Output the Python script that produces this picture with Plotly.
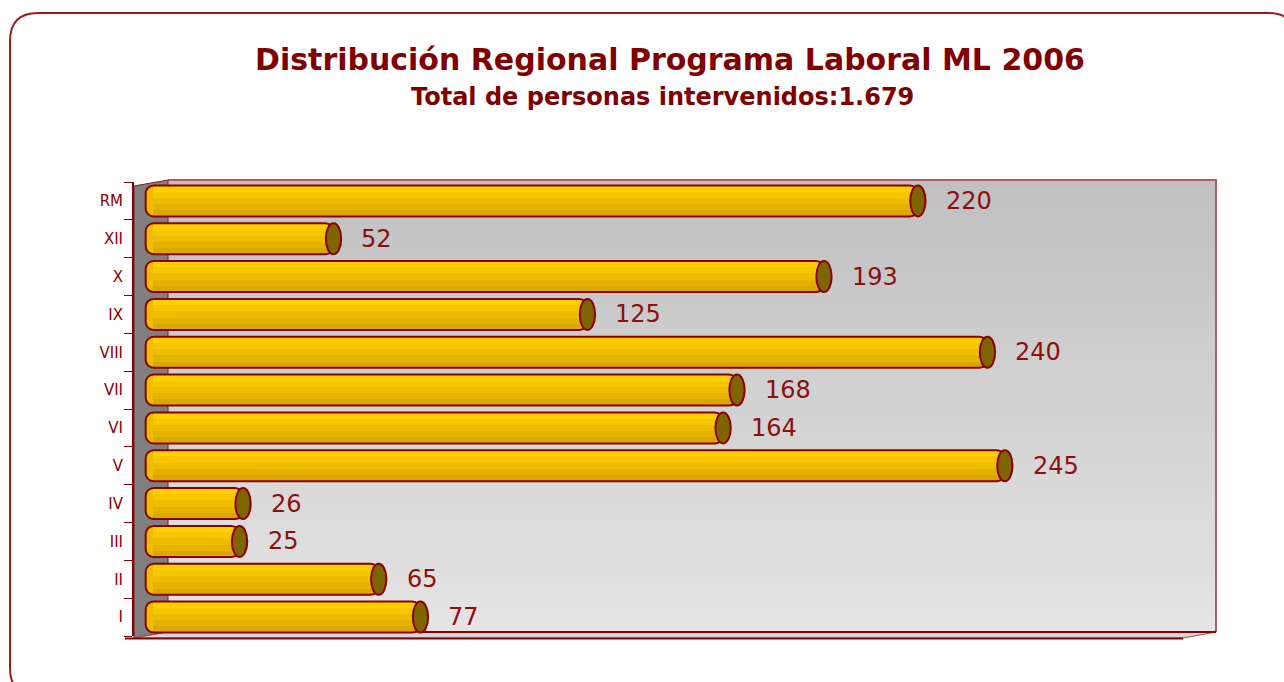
import plotly.graph_objects as go

# ---- data ----
regions = ["I", "II", "III", "IV", "V", "VI", "VII", "VIII", "IX", "X", "XII", "RM"]
personas = [77, 65, 25, 26, 245, 164, 168, 240, 125, 193, 52, 220]
title_text = "Distribución Regional Programa Laboral ML 2006"
subtitle_text = "Total de personas intervenidos:1.679"

# ---- styles / geometry ----
W, H = 1284, 682
L, R, T, B = 134, 1216, 182, 636          # plot area in pixels
X_RANGE = [-5.35, 305.7]
BAR_START = -2.0
BAR_W = 0.82
CAP_HALF = 2.2
DARK_RED = "#8B0000"
TEXT_RED = "#8B1010"
STRIPES = ["#FFCF00", "#F7C600", "#EEBD00", "#E4B200", "#DAA800"]


def PX(x):
    return (x - L) / (R - L)


def PY(y):
    return (B - y) / (B - T)


fig = go.Figure()

# main bar body (rounded at the left end)
fig.add_trace(go.Bar(
    y=regions, x=[-(v - BAR_START) for v in personas], base=personas,
    orientation="h", width=BAR_W,
    marker=dict(color=STRIPES[2], line=dict(width=0), cornerradius=8),
    hoverinfo="skip", showlegend=False))

# horizontal shading stripes
n = len(STRIPES)
sw = BAR_W / n
for k, col in enumerate(STRIPES):
    fig.add_trace(go.Bar(
        y=regions, x=[v - (BAR_START + 2.2) for v in personas], base=BAR_START + 2.2,
        orientation="h", width=sw, offset=BAR_W / 2 - (k + 1) * sw,
        marker=dict(color=col, line=dict(width=0)),
        hoverinfo="skip", showlegend=False))

# outline on top
fig.add_trace(go.Bar(
    y=regions, x=[-(v - BAR_START) for v in personas], base=personas,
    orientation="h", width=BAR_W,
    marker=dict(color="rgba(0,0,0,0)", line=dict(width=2, color=DARK_RED), cornerradius=8),
    hoverinfo="skip", showlegend=False))

shapes = []
# back wall gradient
nb = 40
y_top, y_bot = 180, 632
for i in range(nb):
    t = i / (nb - 1)
    g = int(round(0xC0 + (0xE4 - 0xC0) * t))
    ya = y_top + (y_bot - y_top) * i / nb
    yb = y_top + (y_bot - y_top) * (i + 1) / nb
    shapes.append(dict(type="rect", xref="paper", yref="paper",
                       x0=PX(168), x1=PX(1216), y0=PY(ya), y1=PY(yb + 0.5),
                       fillcolor=f"rgb({g},{g},{g})", line=dict(width=0), layer="below"))
# back wall edges
shapes.append(dict(type="path", xref="paper", yref="paper", layer="below",
                   path=f"M{PX(168)},{PY(180)} L{PX(1216)},{PY(180)} L{PX(1216)},{PY(632)}",
                   line=dict(color="#A86060", width=2)))
# left wall
shapes.append(dict(type="path", xref="paper", yref="paper", layer="below",
                   path=f"M{PX(134)},{PY(186)} L{PX(168)},{PY(180)} L{PX(168)},{PY(632)} L{PX(134)},{PY(638)} Z",
                   fillcolor="#808080", line=dict(color="#7A2020", width=1)))
# floor
shapes.append(dict(type="path", xref="paper", yref="paper", layer="below",
                   path=f"M{PX(134)},{PY(638)} L{PX(168)},{PY(632)} L{PX(1216)},{PY(632)} L{PX(1183)},{PY(638)} Z",
                   fillcolor="#D6D6D6", line=dict(color="#A05050", width=1)))
shapes.append(dict(type="line", xref="paper", yref="paper", layer="below",
                   x0=PX(168), x1=PX(1216), y0=PY(632), y1=PY(632),
                   line=dict(color=DARK_RED, width=2)))
shapes.append(dict(type="line", xref="paper", yref="paper", layer="below",
                   x0=PX(125), x1=PX(1183), y0=PY(638.5), y1=PY(638.5),
                   line=dict(color=DARK_RED, width=2)))

# cylinder end caps
for i, v in enumerate(personas):
    shapes.append(dict(type="circle", xref="x", yref="y",
                       x0=v - CAP_HALF, x1=v + CAP_HALF, y0=i - BAR_W / 2, y1=i + BAR_W / 2,
                       fillcolor="#7F6500", line=dict(color=DARK_RED, width=2), layer="above"))

# rounded outer frame
x0, y0, x1, y1, rr = 10, 13, 1296, 696, 28
frame = (f"M{PX(x0)},{PY(y0 + rr)} Q{PX(x0)},{PY(y0)} {PX(x0 + rr)},{PY(y0)} "
         f"L{PX(x1 - rr)},{PY(y0)} Q{PX(x1)},{PY(y0)} {PX(x1)},{PY(y0 + rr)} "
         f"L{PX(x1)},{PY(y1 - rr)} Q{PX(x1)},{PY(y1)} {PX(x1 - rr)},{PY(y1)} "
         f"L{PX(x0 + rr)},{PY(y1)} Q{PX(x0)},{PY(y1)} {PX(x0)},{PY(y1 - rr)} Z")
shapes.append(dict(type="path", xref="paper", yref="paper", path=frame,
                   line=dict(color="#9B1B1B", width=2), layer="above"))

annotations = [
    dict(text=f"<b>{title_text}</b>", xref="paper", yref="paper",
         x=PX(670), y=PY(60), xanchor="center", yanchor="middle", showarrow=False,
         font=dict(family="DejaVu Sans", size=30, color="#800000")),
    dict(text=f"<b>{subtitle_text}</b>", xref="paper", yref="paper",
         x=PX(662), y=PY(97), xanchor="center", yanchor="middle", showarrow=False,
         font=dict(family="DejaVu Sans", size=24, color="#800000")),
]
for r, v in zip(regions, personas):
    annotations.append(dict(text=str(v), x=v, y=r, xref="x", yref="y",
                            xanchor="left", yanchor="middle", xshift=26, showarrow=False,
                            font=dict(family="DejaVu Sans", size=24, color=TEXT_RED)))

fig.update_layout(
    width=W, height=H,
    margin=dict(l=L, r=W - R, t=T, b=H - B, pad=0),
    paper_bgcolor="white", plot_bgcolor="rgba(0,0,0,0)",
    barmode="overlay", bargap=0,
    shapes=shapes, annotations=annotations,
    xaxis=dict(range=X_RANGE, visible=False, showgrid=False, zeroline=False, fixedrange=True),
    yaxis=dict(type="category", categoryorder="array", categoryarray=regions,
               range=[-0.5, len(regions) - 0.5],
               showline=True, linecolor=DARK_RED, linewidth=2,
               ticks="outside", tickson="boundaries", ticklen=8, tickcolor=DARK_RED, tickwidth=1,
               ticklabelstandoff=6,
               showgrid=False, zeroline=False,
               tickfont=dict(family="DejaVu Sans", size=15, color=DARK_RED), fixedrange=True),
    showlegend=False,
)

fig.write_html("out.html", config={"displayModeBar": False, "staticPlot": True},
               post_script="document.body.style.margin='0';document.body.style.overflow='hidden';")
